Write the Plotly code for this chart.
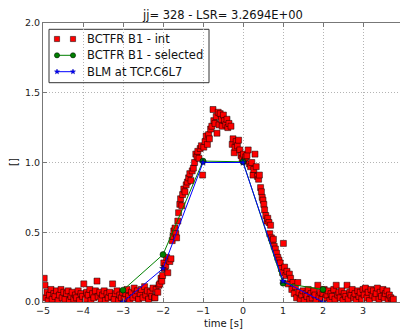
import plotly.graph_objects as go

# ---- chart text -------------------------------------------------------------
title_text = "jj= 328 - LSR= 3.2694E+00"
x_label = "time [s]"
y_label = "[]"
legend_names = ["BCTFR B1 - int", "BCTFR B1 - selected", "BLM at TCP.C6L7"]

x_ticks = [-5, -4, -3, -2, -1, 0, 1, 2, 3]
y_ticks = [0.0, 0.5, 1.0, 1.5, 2.0]
y_tick_labels = ["0.0", "0.5", "1.0", "1.5", "2.0"]

# ---- BCTFR B1 integrated intensity samples ---------------------------------
bct_t = [
    -4.97, -4.95, -4.93, -4.90, -4.87, -4.84, -4.80, -4.77, -4.73, -4.70,
    -4.66, -4.62, -4.59, -4.55, -4.52, -4.48, -4.45, -4.41, -4.37, -4.34,
    -4.30, -4.27, -4.23, -4.19, -4.16, -4.12, -4.09, -4.05, -4.01, -3.98,
    -3.94, -3.91, -3.87, -3.83, -3.80, -3.76, -3.73, -3.69, -3.65, -3.62,
    -3.58, -3.55, -3.51, -3.47, -3.44, -3.40, -3.37, -3.33, -3.29, -3.26,
    -3.22, -3.19, -3.15, -3.11, -3.08, -3.04, -3.01, -2.97, -2.93, -2.90,
    -2.86, -2.83, -2.79, -2.75, -2.72, -2.68, -2.64, -2.61, -2.57, -2.54,
    -2.50, -2.46, -2.43, -2.39, -2.36, -2.32, -2.28, -2.25, -2.21,
    -2.20, -2.17, -2.13, -2.10, -2.08, -2.05, -2.03, -2.01, -1.98, -1.96,
    -1.93, -1.91, -1.88, -1.86, -1.83, -1.80, -1.77, -1.75, -1.73, -1.70,
    -1.68, -1.66, -1.63, -1.61, -1.58, -1.56, -1.53, -1.51, -1.48, -1.45,
    -1.42, -1.39, -1.36, -1.33, -1.30, -1.27, -1.24, -1.21, -1.18, -1.15,
    -1.13, -1.10, -1.07, -1.04, -1.01,
    -0.98, -0.95, -0.92, -0.89, -0.86, -0.84, -0.81, -0.78, -0.75, -0.73,
    -0.70, -0.67, -0.65, -0.62, -0.60, -0.57, -0.54, -0.52, -0.49, -0.46,
    -0.43, -0.40, -0.38, -0.35, -0.30, -0.27, -0.25, -0.22, -0.20, -0.17,
    -0.14, -0.11, -0.08, -0.05, -0.02, 0.01, 0.04, 0.07, 0.10, 0.13,
    0.16, 0.19, 0.22, 0.25, 0.27, 0.30, 0.33, 0.36, 0.39, 0.41,
    0.44, 0.46, 0.48, 0.50, 0.52, 0.54, 0.57, 0.60, 0.62, 0.65,
    0.67, 0.69, 0.71, 0.74, 0.76, 0.78, 0.81, 0.84, 0.87, 0.90,
    0.93, 0.96, 0.99, 1.01, 1.04, 1.07, 1.10, 1.13, 1.16, 1.19,
    1.22, 1.25, 1.28, 1.31, 1.34, 1.37,
    1.40, 1.43, 1.47, 1.50, 1.53, 1.57, 1.60, 1.63, 1.67, 1.70,
    1.73, 1.77, 1.80, 1.83, 1.87, 1.90, 1.93, 1.97, 2.00, 2.03,
    2.07, 2.10, 2.13, 2.17, 2.20, 2.23, 2.27, 2.30, 2.33, 2.37,
    2.40, 2.43, 2.47, 2.50, 2.53, 2.57, 2.60, 2.63, 2.67, 2.70,
    2.73, 2.77, 2.80, 2.83, 2.87, 2.90, 2.93, 2.97, 3.00, 3.03,
    3.06, 3.10, 3.13, 3.16, 3.20, 3.23, 3.26, 3.30, 3.33, 3.36,
    3.40, 3.43, 3.46, 3.50, 3.53, 3.56, 3.60, 3.63, 3.66, 3.70,
    3.73, 3.76,
]
bct_v = [
    0.17, 0.12, 0.03, 0.07, 0.01, 0.05, 0.09, 0.02, 0.06, 0.04,
    0.08, 0.01, 0.05, 0.09, 0.03, 0.07, 0.02, 0.06, 0.08, 0.01,
    0.04, 0.07, 0.02, 0.05, 0.03, 0.08, 0.01, 0.06, 0.04, 0.13,
    0.02, 0.07, 0.05, 0.09, 0.01, 0.06, 0.03, 0.08, 0.15, 0.04,
    0.07, 0.02, 0.05, 0.08, 0.01, 0.06, 0.03, 0.07, 0.04, 0.13,
    0.02, 0.06, 0.08, 0.01, 0.05, 0.03, 0.07, 0.02, 0.06, 0.09,
    0.04, 0.01, 0.07, 0.03, 0.10, 0.05, 0.08, 0.02, 0.06, 0.09,
    0.03, 0.11, 0.05, 0.08, 0.02, 0.07, 0.04, 0.10, 0.03,
    0.03, 0.09, 0.07, 0.12, 0.13, 0.17, 0.15, 0.19, 0.28, 0.24,
    0.26, 0.32, 0.21, 0.30, 0.29, 0.31, 0.44, 0.47, 0.51, 0.53,
    0.49, 0.46, 0.58, 0.64, 0.70, 0.74, 0.69, 0.77, 0.81, 0.79,
    0.84, 0.86, 0.89, 0.92, 0.87, 0.94, 0.96, 1.00, 1.06, 1.04,
    1.08, 1.03, 1.10, 1.12, 0.91,
    1.11, 1.15, 1.19, 1.13, 1.20, 1.17, 1.24, 1.26, 1.38, 1.30,
    1.28, 1.33, 1.21, 1.36, 1.27, 1.35, 1.31, 1.26, 1.34, 1.30,
    1.27, 1.31, 1.25, 1.28, 1.26, 1.13, 1.17, 1.07, 1.11, 1.15,
    1.12, 1.16, 1.09, 1.05, 1.03, 1.06, 1.01, 1.04, 1.05, 1.09,
    0.99, 0.97, 1.00, 0.91, 0.95, 1.06, 0.97, 0.90, 0.88, 0.91,
    0.82, 0.79, 0.75, 0.73, 0.70, 0.66, 0.62, 0.58, 0.60, 0.57,
    0.49, 0.55, 0.46, 0.44, 0.45, 0.40, 0.38, 0.35, 0.32, 0.30,
    0.28, 0.24, 0.21, 0.42, 0.25, 0.19, 0.22, 0.13, 0.20, 0.17,
    0.09, 0.14, 0.06, 0.11, 0.03, 0.14,
    0.07, 0.02, 0.05, 0.08, 0.01, 0.06, 0.04, 0.09, 0.02, 0.06,
    0.03, 0.08, 0.05, 0.01, 0.12, 0.04, 0.07, 0.02, 0.06, 0.09,
    0.03, 0.05, 0.08, 0.01, 0.06, 0.04, 0.09, 0.02, 0.12, 0.05,
    0.07, 0.03, 0.08, 0.01, 0.06, 0.04, 0.12, 0.02, 0.07, 0.05,
    0.09, 0.03, 0.06, 0.01, 0.08, 0.04, 0.07, 0.02, 0.09, 0.05,
    0.10, 0.03, 0.07, 0.01, 0.09, 0.05, 0.08, 0.03, 0.06, 0.10,
    0.02, 0.07, 0.04, 0.09, 0.03, 0.06, 0.08, 0.02, 0.05, 0.03,
    0.01, 0.02,
]

# ---- selected BCTFR points and BLM signal ----------------------------------
sel_t = [-3, -2, -1, 0, 1, 2]
sel_v = [0.085, 0.34, 1.01, 1.005, 0.135, 0.09]
blm_t = [-3, -2, -1, 0, 1, 2]
blm_v = [0.0, 0.24, 1.0, 1.0, 0.15, 0.0]

# ---- page geometry ----------------------------------------------------------
W, H = 400, 330
ML, MR, MT, MB = 43, 0, 23, 28
PW, PH = W - ML - MR, H - MT - MB
X_MIN = -5.0
X_MAX = X_MIN + PW / 40.0          # 40 px per second
FONT = "DejaVu Sans"
AXIS_GREY = "#777777"


def px(x):
    """pixel column -> paper x"""
    return (x - ML) / PW


def py(y):
    """pixel row -> paper y"""
    return (H - MB - y) / PH


fig = go.Figure()

fig.add_trace(go.Scatter(
    x=bct_t, y=bct_v, mode="markers", name=legend_names[0],
    marker=dict(symbol="square", size=6, color="#ff0000",
                line=dict(color="#000000", width=0.5)),
))
fig.add_trace(go.Scatter(
    x=sel_t, y=sel_v, mode="lines+markers", name=legend_names[1],
    line=dict(color="#008000", width=1),
    marker=dict(symbol="circle", size=6, color="#008000",
                line=dict(color="#000000", width=0.5)),
))
fig.add_trace(go.Scatter(
    x=blm_t, y=blm_v, mode="lines+markers", name=legend_names[2],
    line=dict(color="#0000ff", width=1),
    marker=dict(symbol="star", size=5, color="#0000ff",
                line=dict(color="#000033", width=0.5)),
))

# ---- legend box drawn with shapes and annotations --------------------------
shapes = []
annotations = []
shapes.append(dict(type="rect", xref="paper", yref="paper",
                   x0=px(49), x1=px(209), y0=py(82.7), y1=py(29.3),
                   fillcolor="white", line=dict(color="#333333", width=1),
                   layer="between"))

rows = [39.0, 55.3, 71.7]
sym_x = [57.0, 73.0]
half = 2.6
# red squares
for sx in sym_x:
    shapes.append(dict(type="rect", xref="paper", yref="paper",
                       x0=px(sx - half), x1=px(sx + half),
                       y0=py(rows[0] + half), y1=py(rows[0] - half),
                       fillcolor="#ff0000", line=dict(color="#000000", width=0.5),
                       layer="above"))
# green line with round markers
shapes.append(dict(type="line", xref="paper", yref="paper",
                   x0=px(sym_x[0]), x1=px(sym_x[1]), y0=py(rows[1]), y1=py(rows[1]),
                   line=dict(color="#008000", width=1), layer="above"))
for sx in sym_x:
    shapes.append(dict(type="circle", xref="paper", yref="paper",
                       x0=px(sx - half), x1=px(sx + half),
                       y0=py(rows[1] + half), y1=py(rows[1] - half),
                       fillcolor="#008000", line=dict(color="#000000", width=0.5),
                       layer="above"))
# blue line with small stars
shapes.append(dict(type="line", xref="paper", yref="paper",
                   x0=px(sym_x[0]), x1=px(sym_x[1]), y0=py(rows[2]), y1=py(rows[2]),
                   line=dict(color="#0000ff", width=1), layer="above"))


def star_path(cx, cy, r_out=2.6, r_in=1.1):
    import math
    pts = []
    for k in range(10):
        r = r_out if k % 2 == 0 else r_in
        a = -math.pi / 2 + k * math.pi / 5
        pts.append((px(cx + r * math.cos(a)), py(cy + r * math.sin(a))))
    return "M " + " L ".join(f"{a:.5f},{b:.5f}" for a, b in pts) + " Z"


for sx in sym_x:
    shapes.append(dict(type="path", xref="paper", yref="paper",
                       path=star_path(sx, rows[2]),
                       fillcolor="#0000ff", line=dict(color="#0000aa", width=0.5),
                       layer="above"))

for name, ry in zip(legend_names, rows):
    annotations.append(dict(text=name, xref="paper", yref="paper",
                            x=px(85), y=py(ry), xanchor="left", yanchor="middle",
                            showarrow=False, font=dict(family=FONT, size=11.5, color="#111111")))

# title and axis labels
annotations.append(dict(text=title_text, xref="paper", yref="paper",
                        x=px(222), y=py(15), xanchor="center", yanchor="middle",
                        showarrow=False, font=dict(family=FONT, size=11.5, color="#111111")))
annotations.append(dict(text=x_label, xref="paper", yref="paper",
                        x=px(223), y=py(323), xanchor="center", yanchor="middle",
                        showarrow=False, font=dict(family=FONT, size=10, color="#111111")))
annotations.append(dict(text=y_label, xref="paper", yref="paper",
                        x=px(13), y=py(162), xanchor="center", yanchor="middle",
                        textangle=-90, showarrow=False,
                        font=dict(family=FONT, size=10, color="#111111")))

axis_common = dict(
    showgrid=True, gridcolor="#b4b4b4", gridwidth=1, griddash="1px,2px",
    showline=True, linecolor=AXIS_GREY, linewidth=1,
    ticks="inside", ticklen=4, tickcolor=AXIS_GREY, tickwidth=1,
    tickfont=dict(family=FONT, size=9.5, color="#222222"),
    zeroline=False, automargin=False,
)

fig.update_layout(
    width=W, height=H,
    margin=dict(l=ML, r=MR, t=MT, b=MB, pad=0),
    paper_bgcolor="white", plot_bgcolor="white",
    showlegend=False,
    shapes=shapes, annotations=annotations,
    xaxis=dict(range=[X_MIN, X_MAX], tickvals=x_ticks, mirror="ticks", **axis_common),
    yaxis=dict(range=[0, 2], tickvals=y_ticks, ticktext=y_tick_labels,
               mirror=False, **axis_common),
)

fig.write_html("out.html")
